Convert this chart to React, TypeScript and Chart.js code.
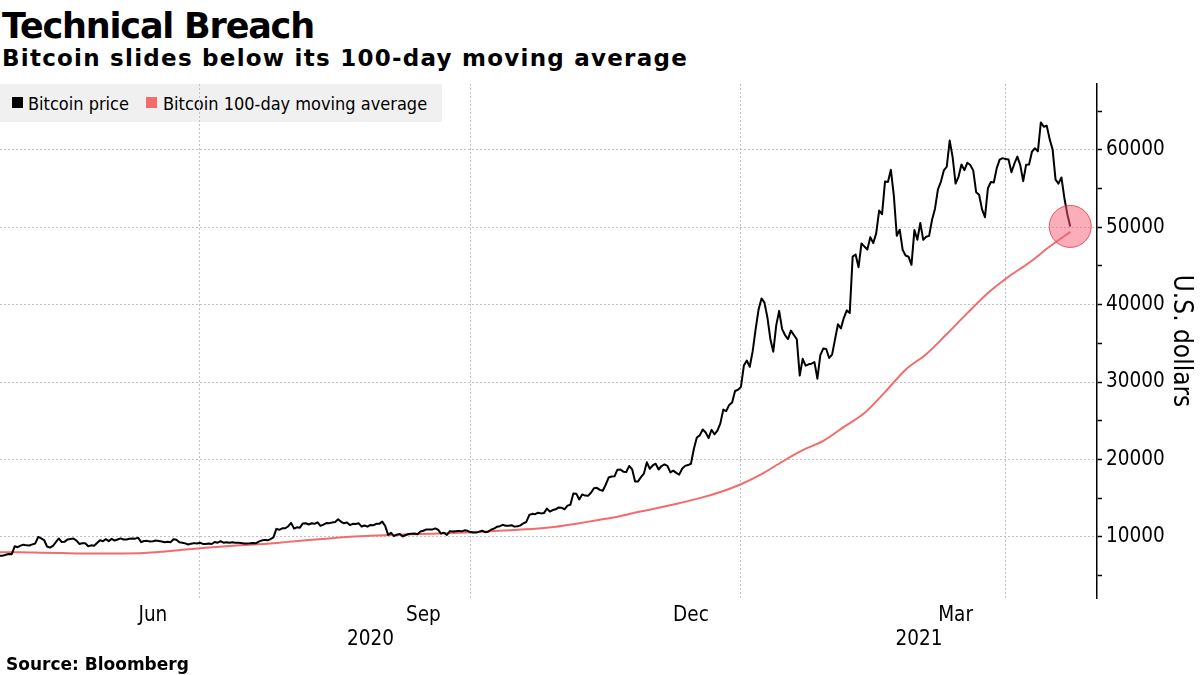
import { useEffect, useRef } from 'react';
import { Chart, registerables } from 'chart.js';

Chart.register(...registerables);

// Daily Bitcoin closes, first value = 24 Apr 2020 (day 0), last = 23 Apr 2021
const apr2020 = [7550, 7570, 7680, 7790, 7760, 8780, 8660];
const may2020 = [8860, 8990, 8900, 8890, 9030, 9150, 9990, 9810, 9590, 8750, 8600, 8820, 9320, 9790, 9320, 9380, 9670, 9730, 9780, 9520, 9080, 9170, 9180, 8790, 8900, 8840, 9200, 9570, 9430, 9700, 9450];
const jun2020 = [9750, 9520, 9660, 9800, 9660, 9670, 9750, 9780, 9770, 9880, 9320, 9470, 9480, 9390, 9430, 9530, 9460, 9390, 9310, 9360, 9290, 9690, 9630, 9290, 9250, 9160, 9010, 9120, 9190, 9140];
const jul2020 = [9230, 9090, 9070, 9130, 9080, 9340, 9250, 9430, 9240, 9290, 9240, 9300, 9240, 9250, 9200, 9130, 9150, 9170, 9210, 9160, 9390, 9540, 9610, 9550, 9710, 9930, 11030, 10910, 11100, 11110, 11350];
const aug2020 = [11800, 11070, 11230, 11190, 11740, 11760, 11600, 11750, 11680, 11880, 11410, 11580, 11780, 11770, 11860, 11910, 12280, 11950, 11750, 11860, 11520, 11680, 11650, 11750, 11330, 11470, 11320, 11540, 11500, 11680, 11680];
const sep2020 = [11970, 11410, 10250, 10510, 10100, 10280, 10370, 10050, 10240, 10360, 10400, 10440, 10330, 10680, 10790, 10960, 10950, 10940, 11090, 10920, 10420, 10540, 10240, 10740, 10690, 10730, 10770, 10710, 10840, 10780];
const oct2020 = [10620, 10570, 10550, 10670, 10790, 10600, 10670, 10920, 11060, 11300, 11380, 11550, 11430, 11430, 11500, 11320, 11360, 11480, 11750, 11920, 12820, 12970, 12930, 13120, 13030, 13070, 13650, 13270, 13460, 13560, 13800];
const nov2020 = [13760, 13550, 14030, 14140, 15590, 15580, 14830, 15480, 15330, 15300, 15700, 16280, 16330, 16070, 15960, 16730, 17660, 17800, 17820, 18680, 18710, 18420, 18370, 19160, 18720, 17150, 17140, 17720, 18180, 19630];
const dec2020 = [18800, 19220, 19450, 18700, 19150, 19360, 19170, 18320, 18550, 18260, 18040, 18800, 19170, 19270, 19440, 21380, 22840, 23110, 23870, 23480, 22750, 23830, 23250, 23720, 24660, 26440, 26250, 27040, 27370, 28840, 29000];
const jan2021 = [29370, 32130, 32780, 31970, 33990, 36820, 39370, 40800, 40250, 38350, 35570, 33920, 37320, 39190, 36830, 36070, 35550, 36640, 36070, 35520, 30830, 33000, 32110, 32290, 32370, 32570, 30430, 33470, 34320, 34270, 33110];
const feb2021 = [33540, 35510, 37470, 36930, 38290, 39260, 38900, 46200, 46480, 44840, 47910, 47500, 47110, 48720, 47940, 49200, 52150, 51680, 55890, 55840, 57410, 54090, 48890, 49680, 47070, 46340, 46190, 45140];
const mar2021 = [49630, 48380, 50540, 48370, 48760, 48880, 50970, 52390, 54880, 55860, 57330, 57810, 61190, 59050, 55640, 56510, 58090, 57370, 58320, 58040, 57340, 54530, 54200, 52300, 51290, 55030, 55840, 55780, 57630, 58730, 58920];
const apr2021 = [58800, 58760, 57100, 58200, 59120, 58020, 55950, 58080, 58090, 59770, 60200, 59800, 63540, 62970, 63110, 61380, 60050, 56150, 55630, 56430, 53780, 51700, 50100];

const btcPrice = [
  ...apr2020, ...may2020, ...jun2020, ...jul2020, ...aug2020, ...sep2020,
  ...oct2020, ...nov2020, ...dec2020, ...jan2021, ...feb2021, ...mar2021, ...apr2021,
];

// 100-day moving average, read every 7 days from day 0
const maStepDays = 7;
const movingAvg = [8000, 8000, 7950, 7900, 7850, 7850, 7850, 7900, 8100, 8350, 8600, 8800, 8950, 9100, 9350, 9600, 9800, 10000, 10150, 10250, 10350, 10400, 10500, 10600, 10750, 10900, 11050, 11300, 11700, 12150, 12600, 13200, 13750, 14350, 15000, 15800, 16800, 18100, 19700, 21200, 22400, 24200, 26000, 28700, 31600, 33600, 36200, 38900, 41500, 43600, 45400, 47500, 49400];

// x axis (days since 24 Apr 2020)
const xMinDay = 0;
const xMaxDay = 373.1;
const gridDays = [68, 160, 252, 342]; // 1 Jul, 1 Oct, 1 Jan, 1 Apr
const monthTickDays = [52, 144, 235, 325]; // mid Jun, Sep, Dec, Mar
const monthTickLabels = ['Jun', 'Sep', 'Dec', 'Mar'];
const yearStartDay2021 = 252;
const yearLabels = ['2020', '2021'];

// y axis
const yMin = 2100;
const yMax = 68500;
const yTicks = [5000, 10000, 15000, 20000, 25000, 30000, 35000, 40000, 45000, 50000, 55000, 60000, 65000];
const yLabelStep = 10000;

const seriesNames = ['Bitcoin price', 'Bitcoin 100-day moving average'];
const seriesColors = ['#000000', '#f36b6b'];

const condensed = '"DejaVu Sans Condensed", "DejaVu Sans", sans-serif';
const boldFont = '"DejaVu Sans", sans-serif';

export default function App() {
  const canvasRef = useRef<HTMLCanvasElement | null>(null);

  useEffect(() => {
    const canvas = canvasRef.current;
    if (!canvas) return;
    const last = btcPrice.length - 1;
    const yearCenters = [(xMinDay + yearStartDay2021) / 2, (yearStartDay2021 + xMaxDay) / 2];
    const gridColor = '#c2c2c2';

    const chart = new Chart(canvas, {
      type: 'line',
      data: {
        datasets: [
          {
            label: 'breach',
            data: [{ x: last, y: btcPrice[last] }],
            showLine: false,
            pointRadius: 21,
            pointHoverRadius: 21,
            pointBackgroundColor: 'rgba(248, 92, 116, 0.5)',
            pointBorderColor: 'rgba(228, 60, 84, 0.85)',
            pointBorderWidth: 1,
          },
          {
            label: seriesNames[0],
            data: btcPrice.map((v, i) => ({ x: i, y: v })),
            borderColor: seriesColors[0],
            borderWidth: 2,
            pointRadius: 0,
            tension: 0,
            borderJoinStyle: 'round',
          },
          {
            label: seriesNames[1],
            data: movingAvg.map((v, i) => ({ x: i * maStepDays, y: v })),
            borderColor: seriesColors[1],
            borderWidth: 2,
            pointRadius: 0,
            cubicInterpolationMode: 'monotone',
          },
        ],
      },
      options: {
        animation: false,
        responsive: false,
        maintainAspectRatio: false,
        events: [],
        layout: { autoPadding: false, padding: { top: 84, left: 0, right: 0, bottom: 27 } },
        plugins: {
          legend: { display: false },
          tooltip: { enabled: false },
          title: { display: false },
        },
        scales: {
          x: {
            type: 'linear',
            position: 'bottom',
            weight: 0,
            min: xMinDay,
            max: xMaxDay,
            afterBuildTicks: (s: any) => {
              s.ticks = gridDays.map((v) => ({ value: v }));
            },
            afterFit: (s: any) => {
              s.height = 0;
            },
            ticks: { display: false },
            grid: { color: gridColor, lineWidth: 1, drawTicks: false },
            border: { display: false, dash: [2, 2] },
          },
          xMonth: {
            type: 'linear',
            position: 'bottom',
            weight: 1,
            min: xMinDay,
            max: xMaxDay,
            afterBuildTicks: (s: any) => {
              s.ticks = monthTickDays.map((v) => ({ value: v }));
            },
            afterFit: (s: any) => {
              s.height = 28;
            },
            ticks: {
              autoSkip: false,
              maxRotation: 0,
              padding: 5,
              color: '#000',
              font: { family: condensed, size: 20.5 },
              callback: (_v: any, i: number) => monthTickLabels[i],
            },
            grid: { display: false, drawTicks: false },
            border: { display: false },
          },
          xYear: {
            type: 'linear',
            position: 'bottom',
            weight: 2,
            min: xMinDay,
            max: xMaxDay,
            afterBuildTicks: (s: any) => {
              s.ticks = yearCenters.map((v) => ({ value: v }));
            },
            afterFit: (s: any) => {
              s.height = 22;
            },
            ticks: {
              autoSkip: false,
              maxRotation: 0,
              padding: 1,
              color: '#000',
              font: { family: condensed, size: 20.5 },
              callback: (_v: any, i: number) => yearLabels[i],
            },
            grid: { display: false, drawTicks: false },
            border: { display: false },
          },
          y: {
            type: 'linear',
            position: 'right',
            min: yMin,
            max: yMax,
            afterBuildTicks: (s: any) => {
              s.ticks = yTicks.map((v) => ({ value: v }));
            },
            afterFit: (s: any) => {
              s.width = 103;
            },
            ticks: {
              padding: 4,
              color: '#000',
              font: { family: condensed, size: 20.5 },
              callback: (v: any) => (Number(v) % yLabelStep === 0 ? String(v) : ''),
            },
            grid: {
              color: (ctx: any) =>
                ctx.tick && ctx.tick.value % yLabelStep === 0 ? gridColor : 'rgba(0,0,0,0)',
              lineWidth: 1,
              tickColor: '#000',
              tickLength: 5,
              tickWidth: 1.5,
            },
            border: { display: true, color: '#000', width: 1.5, dash: [2, 2] },
            title: {
              display: true,
              text: 'U.S. dollars',
              color: '#000',
              font: { family: condensed, size: 26 },
              padding: { top: 4, bottom: 0 },
            },
          },
        },
      },
    } as any);

    return () => chart.destroy();
  }, []);

  return (
    <div style={{ position: 'absolute', left: 0, top: 0, width: 1200, height: 675, background: '#fff', overflow: 'hidden' }}>
      <div
        style={{
          position: 'absolute', left: 2, top: 9, fontFamily: boldFont, fontWeight: 700,
          fontSize: 35, lineHeight: '35px', letterSpacing: '-1.2px', color: '#000', whiteSpace: 'nowrap',
        }}
      >
        Technical Breach
      </div>
      <div
        style={{
          position: 'absolute', left: 2, top: 47, fontFamily: boldFont, fontWeight: 700,
          fontSize: 23, lineHeight: '23px', letterSpacing: '1.25px', color: '#000', whiteSpace: 'nowrap',
        }}
      >
        Bitcoin slides below its 100-day moving average
      </div>
      <div
        style={{
          position: 'absolute', left: 0, top: 84, width: 442, height: 38, background: '#f0f0f0', zIndex: 0,
        }}
      >
        <div style={{ position: 'absolute', left: 12, top: 13, width: 11, height: 11, background: seriesColors[0] }} />
        <div
          style={{
            position: 'absolute', left: 28, top: 11, fontFamily: condensed, fontSize: 18,
            lineHeight: '18px', color: '#000', whiteSpace: 'nowrap',
          }}
        >
          {seriesNames[0]}
        </div>
        <div style={{ position: 'absolute', left: 146, top: 13, width: 11, height: 11, background: seriesColors[1] }} />
        <div
          style={{
            position: 'absolute', left: 163, top: 11, fontFamily: condensed, fontSize: 18,
            lineHeight: '18px', color: '#000', whiteSpace: 'nowrap',
          }}
        >
          {seriesNames[1]}
        </div>
      </div>
      <canvas
        ref={canvasRef}
        width={1200}
        height={675}
        style={{ position: 'absolute', left: 0, top: 0, width: 1200, height: 675, zIndex: 1, display: 'block' }}
      />
      <div
        style={{
          position: 'absolute', left: 6, top: 656, fontFamily: boldFont, fontWeight: 700,
          fontSize: 17, lineHeight: '17px', color: '#000', whiteSpace: 'nowrap', zIndex: 2,
        }}
      >
        Source: Bloomberg
      </div>
    </div>
  );
}
